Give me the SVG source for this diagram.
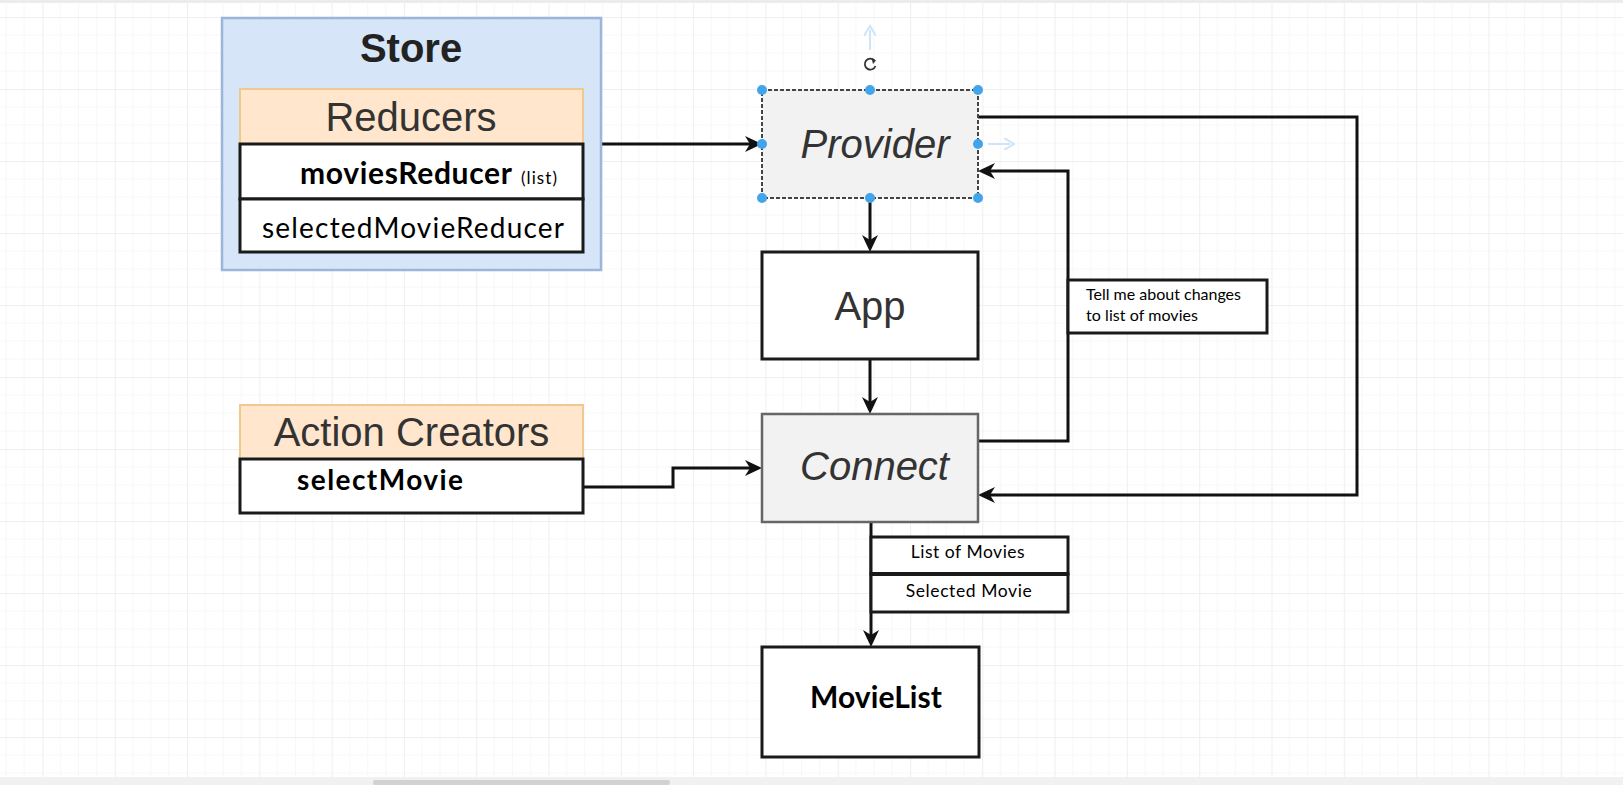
<svg xmlns="http://www.w3.org/2000/svg" width="1623" height="785" viewBox="0 0 1623 785">
<defs>
<pattern id="grid" patternUnits="userSpaceOnUse" x="42.4" y="17" width="72.3" height="72">
<path d="M18.08,0V72M36.15,0V72M54.23,0V72M0,18H72.3M0,36H72.3M0,54H72.3" stroke="#f7f7f7" stroke-width="1" fill="none"/>
<path d="M0.5,0V72M0,0.5H72.3" stroke="#efefef" stroke-width="1.2" fill="none"/>
</pattern>
<marker id="arr" markerUnits="userSpaceOnUse" markerWidth="18" markerHeight="16" refX="13" refY="8" orient="auto">
<path d="M0,0 L17,8 L0,16 L5,8 Z" fill="#111"/>
</marker>
<marker id="farr" markerUnits="userSpaceOnUse" markerWidth="12" markerHeight="12" refX="6" refY="6" orient="auto">
<path d="M0,0 L10,6 L0,12" fill="none" stroke="#cfe4f6" stroke-width="2"/>
</marker>
</defs>
<style>
.box{fill:#fff;stroke:#1a1a1a;stroke-width:3}
.hdr{fill:#ffe6cc;stroke:#f0c98f;stroke-width:2}
.gray{fill:#f2f2f2;stroke:#666;stroke-width:2.5}
.big{font-family:"Liberation Sans",Arial,sans-serif;font-size:40px;fill:#333;text-anchor:middle}
.it{font-style:italic}
.cal{font-family:Lato,"Open Sans",sans-serif;fill:#000}
.b{font-weight:bold}
.conn{fill:none;stroke:#111;stroke-width:3;marker-end:url(#arr)}
.handle{fill:#42a5ec}
</style>
<rect width="1623" height="785" fill="#fff"/>
<rect width="1623" height="785" fill="url(#grid)"/>
<rect x="0" y="0" width="1623" height="3" fill="#ececec"/>
<rect x="0" y="777" width="1623" height="8" fill="#f1f1f1"/>
<rect x="373" y="780" width="297" height="5" rx="2" fill="#d2d2d2"/>

<g id="connectors">
<path class="conn" d="M601,144 H758"/>
<path class="conn" d="M870,198 V248"/>
<path class="conn" d="M870,359 V410"/>
<path class="conn" d="M583,487 H673 V468 H758"/>
<path class="conn" d="M978,441 H1068 V171 H982"/>
<path class="conn" d="M978,117 H1357 V495 H982"/>
<path class="conn" d="M871,522 V643"/>
</g>

<g id="store">
<rect x="222" y="18" width="379" height="252" fill="#d6e5f8" stroke="#9db5da" stroke-width="2.5"/>
<text class="big b" x="411" y="62" style="fill:#222">Store</text>
</g>
<g id="reducers">
<rect class="hdr" x="240" y="89" width="343" height="55"/>
<text class="big" x="411" y="131">Reducers</text>
</g>
<g id="moviesReducer">
<rect class="box" x="240" y="144" width="343" height="55"/>
<text class="cal b" x="300" y="184" font-size="30" textLength="212">moviesReducer</text>
<text class="cal" x="521" y="184" font-size="17" textLength="36">(list)</text>
</g>
<g id="selectedMovieReducer">
<rect class="box" x="240" y="199" width="343" height="53"/>
<text class="cal" x="262" y="238" font-size="28" textLength="302">selectedMovieReducer</text>
</g>

<g id="actionCreators">
<rect class="hdr" x="240" y="405" width="343" height="54"/>
<text class="big" x="411.5" y="446">Action Creators</text>
</g>
<g id="selectMovie">
<rect class="box" x="240" y="459" width="343" height="54"/>
<text class="cal b" x="297" y="490" font-size="28" textLength="166">selectMovie</text>
</g>

<g id="provider">
<rect x="762" y="90" width="216" height="108" fill="#f2f2f2" stroke="#444" stroke-width="2" stroke-dasharray="4 2"/>
<text class="big it" x="875" y="158">Provider</text>
<g class="handle">
<circle cx="762" cy="90" r="5"/><circle cx="870" cy="90" r="5"/><circle cx="978" cy="90" r="5"/>
<circle cx="762" cy="144" r="5"/><circle cx="978" cy="144" r="5"/>
<circle cx="762" cy="198" r="5"/><circle cx="870" cy="198" r="5"/><circle cx="978" cy="198" r="5"/>
</g>
<path d="M874.5,60.5 A5.5,5.5 0 1 0 875.5,66" fill="none" stroke="#333" stroke-width="1.8"/>
<path d="M871.5,58 L876,60.5 L873,64 Z" fill="#333"/>
<path d="M870,50 V30" fill="none" stroke="#cfe4f6" stroke-width="2" marker-end="url(#farr)"/>
<path d="M988,144 H1010" fill="none" stroke="#cfe4f6" stroke-width="2" marker-end="url(#farr)"/>
</g>

<g id="app">
<rect class="box" x="762" y="252" width="216" height="107"/>
<text class="big" x="870" y="320">App</text>
</g>

<g id="connect">
<rect class="gray" x="762" y="414" width="216" height="108"/>
<text class="big it" x="874.5" y="480">Connect</text>
</g>

<g id="movieList">
<rect class="box" x="762" y="647" width="217" height="110"/>
<text class="cal b" x="810" y="708" font-size="30" textLength="132">MovieList</text>
</g>

<g id="tellMeLabel">
<rect class="box" x="1068" y="280" width="199" height="53"/>
<text class="cal" x="1086" y="300" font-size="16" textLength="155">Tell me about changes</text>
<text class="cal" x="1086" y="320.7" font-size="16" textLength="112">to list of movies</text>
</g>

<g id="listOfMoviesLabel">
<rect class="box" x="871" y="537" width="197" height="37"/>
<text class="cal" x="910.7" y="557.7" font-size="17.5" textLength="114">List of Movies</text>
</g>
<g id="selectedMovieLabel">
<rect class="box" x="871" y="574" width="197" height="38"/>
<line x1="871" y1="574" x2="1068" y2="574" stroke="#1a1a1a" stroke-width="4"/>
<text class="cal" x="905.7" y="597.3" font-size="17.5" textLength="126">Selected Movie</text>
</g>
</svg>
